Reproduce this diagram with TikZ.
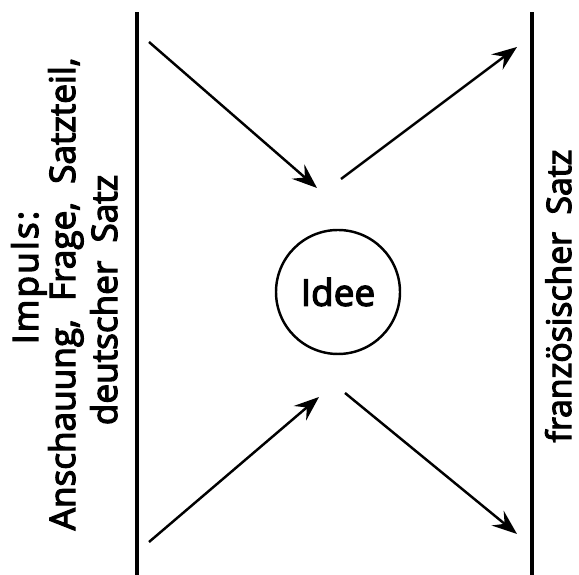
\documentclass[tikz,border=0pt]{standalone}
\usepackage{fontspec}
\setmainfont{Open Sans}[FakeBold=3.5]
\usetikzlibrary{arrows.meta}

\begin{document}
\begin{tikzpicture}[every node/.style={font=\fontsize{20}{22}\selectfont}, >={Stealth[length=5mm, width=3.8mm, inset=1.8mm]}]
	\useasboundingbox (0,0) rectangle (11.58,11.5);
	% the two borders
	\draw[line width=2.1pt] (2.74,0) -- (2.74,11.26);
	\draw[line width=2.1pt] (10.64,0) -- (10.64,11.26);
	% texts
	\node[rotate=90, anchor=base] (impuls) at (0.76,5.95) {\addfontfeatures{LetterSpace=6}Impuls:};
	\node[rotate=90, anchor=base] (anschauung) at (1.50,5.62) {Anschauung,\ \ Frage,\ \ Satzteil,};
	\node[rotate=90, anchor=base] (deutsch) at (2.34,5.50) {deutscher\ \ Satz};
	\node[rotate=90, anchor=base, font=\fontsize{19.2}{22}\selectfont] (franz) at (11.42,5.58) {französischer\ \ Satz};
	\node[draw, circle, line width=1.4pt, minimum size=2.48cm, inner sep=0pt, font=\fontsize{21}{24}\selectfont] (idee) at (6.76,5.66) {Idee};
	% arrow ends
	\coordinate (in1) at (2.98,10.66);
	\coordinate (in1e) at (6.34,7.74);
	\coordinate (in2) at (2.98,0.66);
	\coordinate (in2e) at (6.38,3.56);
	\coordinate (out1) at (6.82,7.92);
	\coordinate (out1e) at (10.34,10.56);
	\coordinate (out2) at (6.90,3.64);
	\coordinate (out2e) at (10.34,0.82);
	\draw[->, line width=1.4pt] (in1) -- (in1e);
	\draw[->, line width=1.4pt] (in2) -- (in2e);
	\draw[->, line width=1.4pt] (out1) -- (out1e);
	\draw[->, line width=1.4pt] (out2) -- (out2e);
\end{tikzpicture}
\end{document}
